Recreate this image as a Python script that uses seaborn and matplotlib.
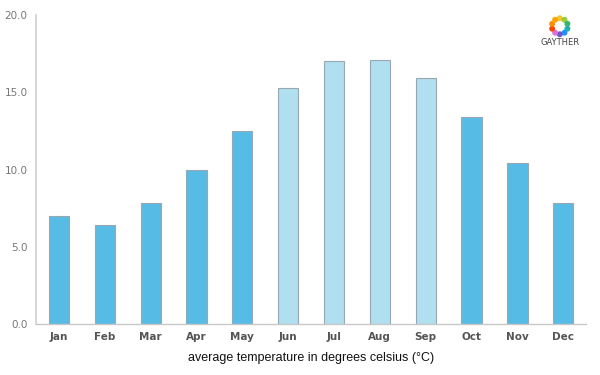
import matplotlib
matplotlib.use("Agg")
import matplotlib.pyplot as plt
import seaborn as sns
import pandas as pd
import numpy as np

months = ["Jan", "Feb", "Mar", "Apr", "May", "Jun", "Jul", "Aug", "Sep", "Oct", "Nov", "Dec"]
temps = [7.0, 6.4, 7.8, 10.0, 12.5, 15.3, 17.0, 17.1, 15.9, 13.4, 10.4, 7.8]
season = ["cool", "cool", "cool", "cool", "cool", "summer", "summer", "summer", "summer", "cool", "cool", "cool"]

df = pd.DataFrame({"month": months, "temp": temps, "season": season})

sns.set_style("white")
plt.rcParams["font.family"] = ["DejaVu Sans"]

fig = plt.figure(figsize=(6, 3.75), dpi=100)
ax = fig.add_axes([0.06, 0.136, 0.917, 0.824])

palette = {"cool": "#56bce6", "summer": "#b0dff0"}
sns.barplot(data=df, x="month", y="temp", hue="season", palette=palette,
            dodge=False, width=0.44, edgecolor="#9aa7b0", linewidth=0.8,
            saturation=1, legend=False, ax=ax)

ax.set_ylim(0, 20)
ax.set_xlim(-0.5, 11.5)
ax.set_yticks([0, 5, 10, 15, 20])
ax.set_yticklabels(["0.0", "5.0", "10.0", "15.0", "20.0"], color="#777777", fontsize=7.5)
ax.tick_params(axis="y", length=0, pad=6)
ax.tick_params(axis="x", length=0, pad=6)
for lbl in ax.get_xticklabels():
    lbl.set_color("#555555")
    lbl.set_fontweight("bold")
    lbl.set_fontsize(7.5)
ax.set_ylabel("")
ax.set_xlabel("average temperature in degrees celsius (°C)", fontsize=9,
              family=["Liberation Sans", "DejaVu Sans"], color="#111111", labelpad=7)

sns.despine(ax=ax, top=True, right=True)
ax.spines["left"].set_color("#d0d0d0")
ax.spines["left"].set_linewidth(1.2)
ax.spines["bottom"].set_color("#c8c8c8")
ax.spines["bottom"].set_linewidth(1.0)

# logo
cols = ["#f4c430", "#9acd32", "#3cb371", "#20b2aa", "#1e90ff", "#6a5acd", "#da70d6", "#ff4500", "#ff8c00", "#ffa500"]
cx, cy = 0.933, 0.93
rx, ry = 8 / 600, 8 / 375
for i, c in enumerate(cols):
    a = np.pi / 2 - 2 * np.pi * i / len(cols)
    fig.patches.append(matplotlib.patches.Ellipse((cx + rx * np.cos(a), cy + ry * np.sin(a)),
                                                  4.5 / 600, 4.5 / 375,
                                                  transform=fig.transFigure, color=c, figure=fig))
fig.text(cx, 0.886, "GAYTHER", ha="center", va="center", fontsize=6, color="#444444")

fig.savefig("out.png", dpi=100)
